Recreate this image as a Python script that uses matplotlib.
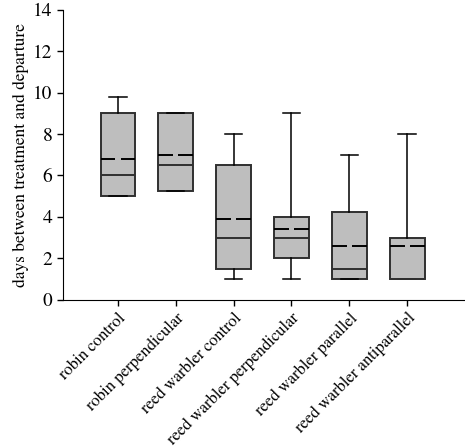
import numpy as np
import matplotlib.pyplot as plt

plt.rcParams['font.family'] = ['TeX Gyre Termes', 'Liberation Serif', 'DejaVu Serif']

# box summary values
groups = ['robin control', 'robin perpendicular', 'reed warbler control',
          'reed warbler perpendicular', 'reed warbler parallel',
          'reed warbler antiparallel']
whisk_lo = [5.0, 5.25, 1.0, 1.0, 1.0, 1.0]
q1 = [5.0, 5.25, 1.5, 2.0, 1.0, 1.0]
median = [6.0, 6.5, 3.0, 3.0, 1.5, 1.0]
mean = [6.8, 7.0, 3.9, 3.4, 2.6, 2.6]
q3 = [9.0, 9.0, 6.5, 4.0, 4.25, 3.0]
whisk_hi = [9.8, 9.0, 8.0, 9.0, 7.0, 8.0]

stats = []
for i in range(len(groups)):
    stats.append(dict(label=groups[i], whislo=whisk_lo[i], q1=q1[i], med=median[i],
                      q3=q3[i], whishi=whisk_hi[i], mean=mean[i], fliers=[]))

fig = plt.figure(figsize=(4.65, 4.48), dpi=100)
ax = fig.add_axes([0.1355, 0.331, 0.8645, 0.647])

pos = np.arange(1, len(groups) + 1)
w = 0.6
edge = '#303030'
ax.bxp(stats, positions=pos, widths=w, patch_artist=True, showfliers=False,
       boxprops=dict(facecolor='#bebebe', edgecolor=edge, linewidth=1.4),
       medianprops=dict(color=edge, linewidth=1.4),
       whiskerprops=dict(color='black', linewidth=1.1),
       capprops=dict(color='black', linewidth=1.1))

# mean drawn as a dashed line with a gap in the middle
gap = 0.09
ax.hlines(mean, pos - w / 2, pos - gap / 2, colors='black', linewidth=1.4, zorder=4)
ax.hlines(mean, pos + gap / 2, pos + w / 2, colors='black', linewidth=1.4, zorder=4)

ax.set_xlim(0.05, 7.0)
ax.set_ylim(0, 14)
ax.set_yticks(np.arange(0, 15, 2))
ax.set_xticks(pos)
ax.set_xticklabels(groups, rotation=45, ha='right', rotation_mode='anchor', fontsize=12)
ax.tick_params(axis='y', labelsize=14, length=4, width=1)
ax.tick_params(axis='x', length=4, width=1)
ax.set_ylabel('days between treatment and departure', fontsize=12.5, labelpad=3)
ax.spines['top'].set_visible(False)
ax.spines['right'].set_visible(False)

fig.savefig('out.png', dpi=100)
